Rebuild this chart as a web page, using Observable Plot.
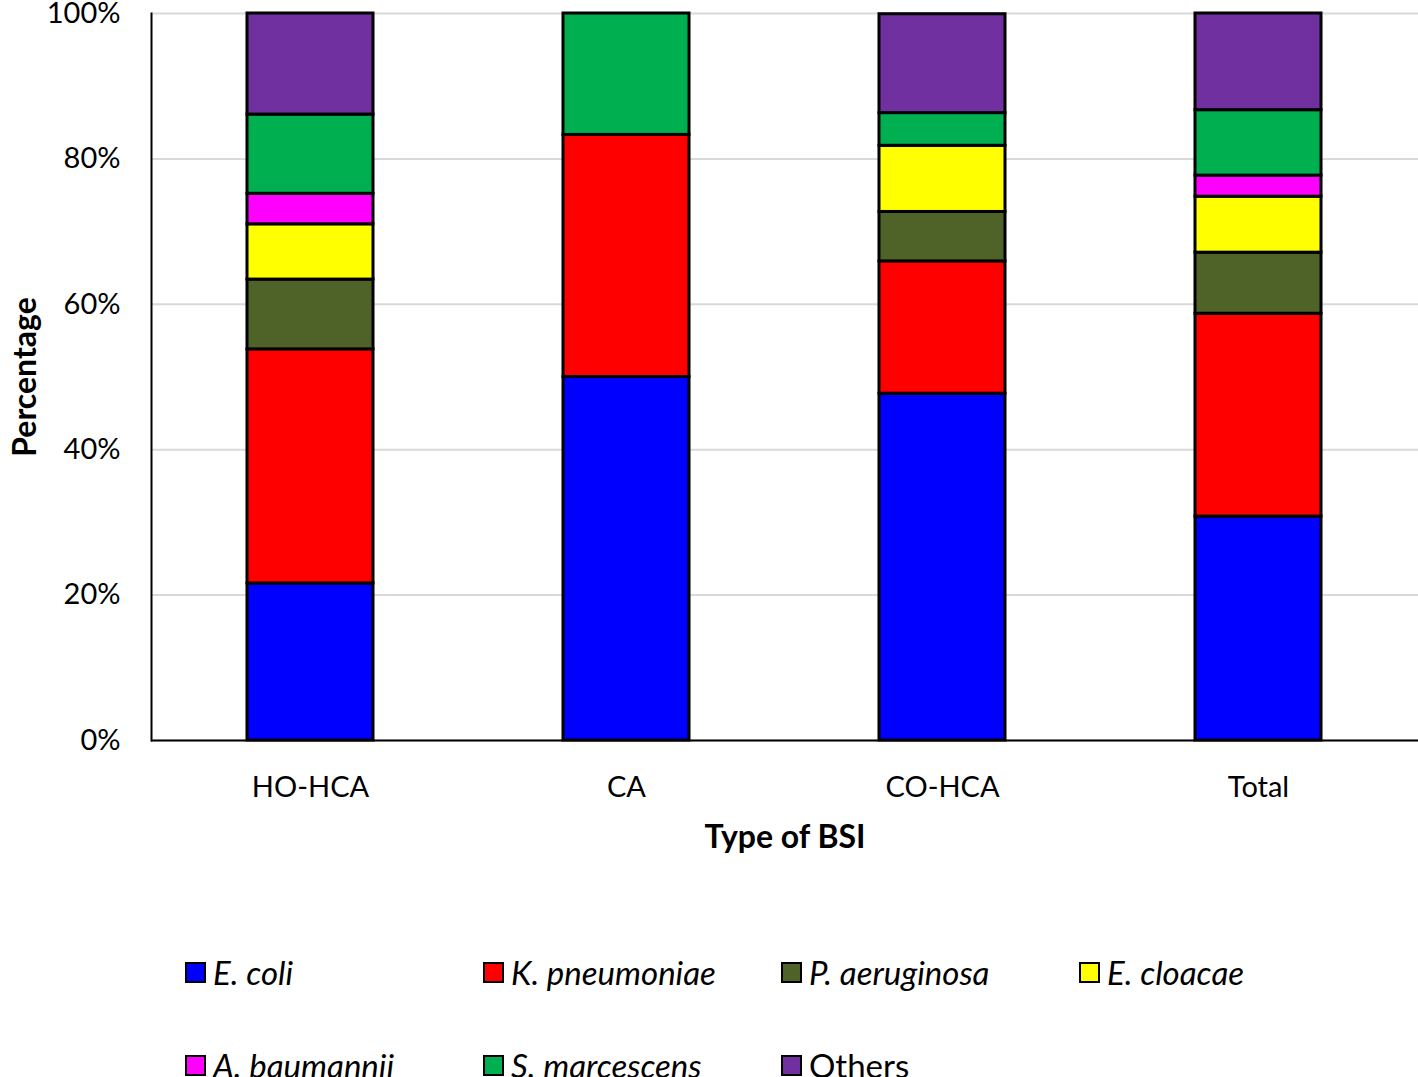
<!DOCTYPE html>
<html>
<head>
<meta charset="utf-8">
<script src="https://cdn.jsdelivr.net/npm/d3@7"></script>
<script src="https://cdn.jsdelivr.net/npm/@observablehq/plot@0.6"></script>
<style>
  html, body { margin: 0; padding: 0; background: #fff; }
  body { width: 1418px; font-family: Lato, "Open Sans", sans-serif; }
  #legend { position: relative; height: 207px; }
  .item { position: absolute; display: flex; align-items: center; font-size: 33px; color: #000; white-space: nowrap; }
  .sw { width: 17px; height: 17px; border: 2.5px solid #000; margin-right: 7px; box-sizing: content-box; }
  .it { font-style: italic; }
</style>
</head>
<body>
<div id="chart"></div>
<div id="legend"></div>
<script>
const categories = ["HO-HCA", "CA", "CO-HCA", "Total"];
const species = ["E. coli", "K. pneumoniae", "P. aeruginosa", "E. cloacae", "A. baumannii", "S. marcescens", "Others"];
const colors = ["#0000FF", "#FF0000", "#4F6228", "#FFFF00", "#FF00FF", "#00B050", "#7030A0"];
const eColi = [21.6, 50.0, 47.7, 30.8];
const kPneumoniae = [32.2, 33.3, 18.2, 27.9];
const pAeruginosa = [9.6, 0, 6.8, 8.4];
const eCloacae = [7.6, 0, 9.1, 7.7];
const aBaumannii = [4.2, 0, 0, 2.9];
const sMarcescens = [10.9, 16.7, 4.5, 9.0];
const others = [13.9, 0, 13.6, 13.3];
const yTicks = [0, 20, 40, 60, 80, 100];

const series = [eColi, kPneumoniae, pAeruginosa, eCloacae, aBaumannii, sMarcescens, others];
const data = [];
series.forEach((vals, si) => {
  vals.forEach((v, ci) => {
    if (v > 0) data.push({category: categories[ci], species: species[si], value: v});
  });
});

const font = "Lato, 'Open Sans', sans-serif";
const chart = Plot.plot({
  width: 1418,
  height: 870,
  marginLeft: 151,
  marginRight: 0,
  marginTop: 13,
  marginBottom: 130,
  style: { fontFamily: font, fontSize: "29px", color: "#000", background: "#fff" },
  x: { domain: categories, paddingInner: 0.6, paddingOuter: 0.3 },
  y: { domain: [0, 100] },
  color: { domain: species, range: colors },
  marks: [
    Plot.gridY(yTicks, { stroke: "#d9d9d9", strokeOpacity: 1, strokeWidth: 2 }),
    Plot.barY(data, { x: "category", y: "value", fill: "species", stroke: "#000", strokeWidth: 3 }),
    Plot.frame({ anchor: "left", stroke: "#000", strokeWidth: 2 }),
    Plot.ruleY([0], { stroke: "#000", strokeWidth: 2 }),
    Plot.axisY(yTicks, {
      tickSize: 0, tickPadding: 31, tickFormat: d => d + "%", fontSize: 29,
      label: null
    }),
    Plot.axisY({
      ticks: [], tickSize: 0,
      label: "Percentage", labelAnchor: "center", labelArrow: "none", labelOffset: 138,
      fontSize: 32, fontWeight: "bold"
    }),
    Plot.axisX({
      tickSize: 0, tickPadding: 36, fontSize: 29, label: null
    }),
    Plot.axisX({
      ticks: [], tickSize: 0, label: "Type of BSI", labelAnchor: "center", labelArrow: "none",
      labelOffset: 107, fontSize: 32, fontWeight: "bold"
    })
  ]
});
document.getElementById("chart").appendChild(chart);

const legend = document.getElementById("legend");
const xs = [185, 483, 781, 1079];
species.forEach((s, i) => {
  const row = i < 4 ? 0 : 1;
  const col = i < 4 ? i : i - 4;
  const div = document.createElement("div");
  div.className = "item";
  div.style.left = xs[col] + "px";
  div.style.top = (row === 0 ? 80 : 173) + "px";
  div.style.height = "44px";
  const sw = document.createElement("div");
  sw.className = "sw";
  sw.style.background = colors[i];
  const tx = document.createElement("span");
  tx.textContent = s;
  if (s !== "Others") tx.className = "it";
  div.appendChild(sw);
  div.appendChild(tx);
  legend.appendChild(div);
});
</script>
</body>
</html>
